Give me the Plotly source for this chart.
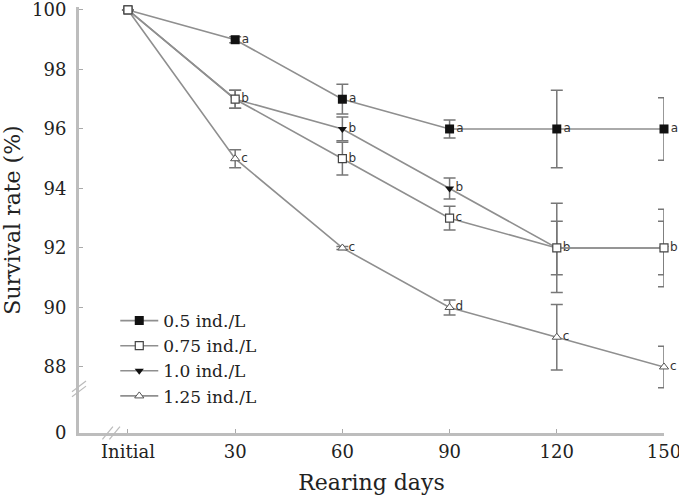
import plotly.graph_objects as go

days = [0, 30, 60, 90, 120, 150]
tick_labels = ["Initial", "30", "60", "90", "120", "150"]

series_names = ["0.5 ind./L", "0.75 ind./L", "1.0 ind./L", "1.25 ind./L"]
s05 = [100, 99, 97, 96, 96, 96]
s075 = [100, 97, 95, 93, 92, 92]
s10 = [100, 97, 96, 94, 92, 92]
s125 = [100, 95, 92, 90, 89, 88]

e05 = [0, 0.1, 0.5, 0.3, 1.3, 1.05]
e075 = [0, 0.3, 0.55, 0.4, 0.9, 0.9]
e10 = [0, 0.3, 0.4, 0.35, 1.5, 1.3]
e125 = [0, 0.3, 0.05, 0.25, 1.1, 0.7]

l05 = ["", "a", "a", "a", "a", "a"]
l075 = ["", "b", "b", "c", "", ""]
l10 = ["", "", "b", "b", "b", "b"]
l125 = ["", "c", "c", "d", "c", "c"]

y_break_value = 85.78  # bottom of broken axis, labelled "0"
y_ticks = [y_break_value, 88, 90, 92, 94, 96, 98, 100]
y_tick_text = ["0", "88", "90", "92", "94", "96", "98", "100"]

FONT = "DejaVu Serif, serif"
LINE = "#8f8f8f"
MK = "#111111"

fig = go.Figure()

specs = [
    (series_names[0], s05, e05, l05, dict(symbol="square", size=9, color=MK)),
    (series_names[2], s10, e10, l10, dict(symbol="triangle-down", size=8, color=MK)),
    (series_names[3], s125, e125, l125, dict(symbol="triangle-up", size=8, color="white", line=dict(color="#555", width=1))),
    (series_names[1], s075, e075, l075, dict(symbol="square", size=8, color="white", line=dict(color="#444", width=1.2))),
]

for name, ys, es, labs, mk in specs:
    fig.add_trace(go.Scatter(
        x=days, y=ys, name=name, mode="lines+markers+text",
        text=labs, textposition="middle right",
        textfont=dict(family="DejaVu Sans, sans-serif", size=12, color="#333"),
        line=dict(color=LINE, width=1.6),
        marker=mk,
        error_y=dict(type="data", array=es, color="#777", thickness=1.5, width=6),
        cliponaxis=False,
        legendrank=series_names.index(name) + 1,
    ))

# axis-break marks (decorations)
brk = dict(type="line", line=dict(color="#bbbbbb", width=1.2))
for dy in (0, 0.012):
    fig.add_shape(**brk, xref="x domain", yref="y domain",
                  x0=-0.012, x1=0.012, y0=0.085 + dy, y1=0.11 + dy)
for dx in (0, 0.012):
    fig.add_shape(**brk, xref="x domain", yref="y domain",
                  x0=0.04 + dx, x1=0.058 + dx, y0=-0.015, y1=0.015)

fig.update_layout(
    width=679, height=495,
    margin=dict(l=79, r=15, t=7, b=62),
    paper_bgcolor="white", plot_bgcolor="white",
    font=dict(family=FONT, size=18, color="#222"),
    showlegend=True,
    legend=dict(x=0.062, y=0.305, xanchor="left", yanchor="top",
                bgcolor="rgba(0,0,0,0)", font=dict(size=17),
                itemwidth=38, tracegroupgap=0),
    xaxis=dict(range=[-13.7, 150], tickmode="array", tickvals=days, ticktext=tick_labels,
               showgrid=False, zeroline=False, showline=True, linecolor="#bdbdbd", linewidth=3,
               ticks="inside", ticklen=4, tickcolor="#aaa", ticklabeloverflow="allow",
               automargin=False,
               title=dict(text="Rearing days", standoff=22)),
    yaxis=dict(range=[y_break_value, 100.1], tickmode="array", tickvals=y_ticks, ticktext=y_tick_text,
               showgrid=False, zeroline=False, showline=True, linecolor="#bdbdbd", linewidth=3,
               ticks="inside", ticklen=4, tickcolor="#aaa", ticklabeloverflow="allow",
               ticklabelstandoff=6, automargin=False,
               title=dict(text="Survival rate (%)", standoff=8)),
)

fig.write_html("out.html")
